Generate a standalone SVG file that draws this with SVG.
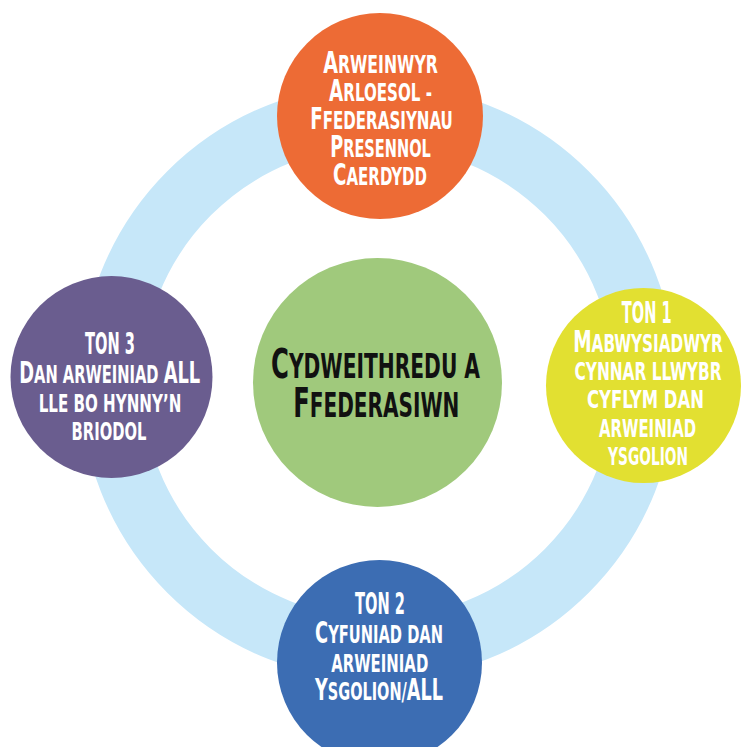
<svg xmlns="http://www.w3.org/2000/svg" width="741" height="747" viewBox="0 0 741 747">
<style>
.t{font-family:"DejaVu Sans","Liberation Sans",sans-serif;font-stretch:condensed;font-weight:bold;fill:#ffffff;text-anchor:middle;font-size:30px}
.c{fill:#111111;font-size:41px}
.s{font-size:24.7px}
.cs{font-size:34px}
</style>
<rect width="741" height="747" fill="#ffffff"/>
<g id="connectors">
<circle cx="378" cy="382" r="267" fill="none" stroke="#C6E7F9" stroke-width="62"/>
</g>
<g id="node-centre">
<circle cx="377.5" cy="382.5" r="124.5" fill="#A0C97C"/>
<text class="t c" transform="matrix(0.78 0 0 1 375.5 378.3)" textLength="268" lengthAdjust="spacingAndGlyphs">C<tspan class="cs">YDWEITHREDU A</tspan></text>
<text class="t c" transform="matrix(0.78 0 0 1 376.3 416.7)" textLength="213" lengthAdjust="spacingAndGlyphs">F<tspan class="cs">FEDERASIWN</tspan></text>
</g>
<g id="node-top">
<circle cx="380" cy="116" r="103" fill="#ED6B35"/>
<text class="t" transform="matrix(0.78 0 0 1 380.5 72.5)" textLength="147" lengthAdjust="spacingAndGlyphs">A<tspan class="s">RWEINWYR</tspan></text>
<text class="t" transform="matrix(0.78 0 0 1 380.5 100.5)" textLength="132" lengthAdjust="spacingAndGlyphs">A<tspan class="s">RLOESOL -</tspan></text>
<text class="t" transform="matrix(0.78 0 0 1 381.5 128.5)" textLength="183" lengthAdjust="spacingAndGlyphs">F<tspan class="s">FEDERASIYNAU</tspan></text>
<text class="t" transform="matrix(0.78 0 0 1 380.5 156.5)" textLength="129" lengthAdjust="spacingAndGlyphs">P<tspan class="s">RESENNOL</tspan></text>
<text class="t" transform="matrix(0.78 0 0 1 380 184.5)" textLength="120.5" lengthAdjust="spacingAndGlyphs">C<tspan class="s">AERDYDD</tspan></text>
</g>
<g id="node-right">
<circle cx="643.5" cy="385.5" r="97.5" fill="#E2E031"/>
<text class="t" transform="matrix(0.78 0 0 1 646.7 323)" textLength="64" lengthAdjust="spacingAndGlyphs">TON 1</text>
<text class="t" transform="matrix(0.78 0 0 1 648 351.7)" textLength="192" lengthAdjust="spacingAndGlyphs">M<tspan class="s">ABWYSIADWYR</tspan></text>
<text class="t s" transform="matrix(0.78 0 0 1 648 380)" textLength="188.5" lengthAdjust="spacingAndGlyphs">CYNNAR LLWYBR</text>
<text class="t s" transform="matrix(0.78 0 0 1 645.5 408.3)" textLength="150" lengthAdjust="spacingAndGlyphs">CYFLYM DAN</text>
<text class="t s" transform="matrix(0.78 0 0 1 647.5 436.7)" textLength="124.5" lengthAdjust="spacingAndGlyphs">ARWEINIAD</text>
<text class="t s" transform="matrix(0.78 0 0 1 648 465)" textLength="102.5" lengthAdjust="spacingAndGlyphs">YSGOLION</text>
</g>
<g id="node-left">
<circle cx="111.5" cy="377" r="101" fill="#6A5D8F"/>
<text class="t" transform="matrix(0.78 0 0 1 110 354)" textLength="64" lengthAdjust="spacingAndGlyphs">TON 3</text>
<text class="t" transform="matrix(0.78 0 0 1 109.7 383.3)" textLength="232" lengthAdjust="spacingAndGlyphs">D<tspan class="s">AN ARWEINIAD </tspan>ALL</text>
<text class="t s" transform="matrix(0.78 0 0 1 110 411.7)" textLength="183" lengthAdjust="spacingAndGlyphs">LLE BO HYNNY’N</text>
<text class="t s" transform="matrix(0.78 0 0 1 109 440)" textLength="96" lengthAdjust="spacingAndGlyphs">BRIODOL</text>
</g>
<g id="node-bottom">
<circle cx="379.5" cy="662.5" r="102.5" fill="#3C6DB3"/>
<text class="t" transform="matrix(0.78 0 0 1 380 614)" textLength="64" lengthAdjust="spacingAndGlyphs">TON 2</text>
<text class="t" transform="matrix(0.78 0 0 1 379 642.7)" textLength="164" lengthAdjust="spacingAndGlyphs">C<tspan class="s">YFUNIAD DAN</tspan></text>
<text class="t s" transform="matrix(0.78 0 0 1 379.7 671.7)" textLength="124.5" lengthAdjust="spacingAndGlyphs">ARWEINIAD</text>
<text class="t" transform="matrix(0.78 0 0 1 379 700)" textLength="164" lengthAdjust="spacingAndGlyphs">Y<tspan class="s">SGOLION/</tspan>ALL</text>
</g>
</svg>
